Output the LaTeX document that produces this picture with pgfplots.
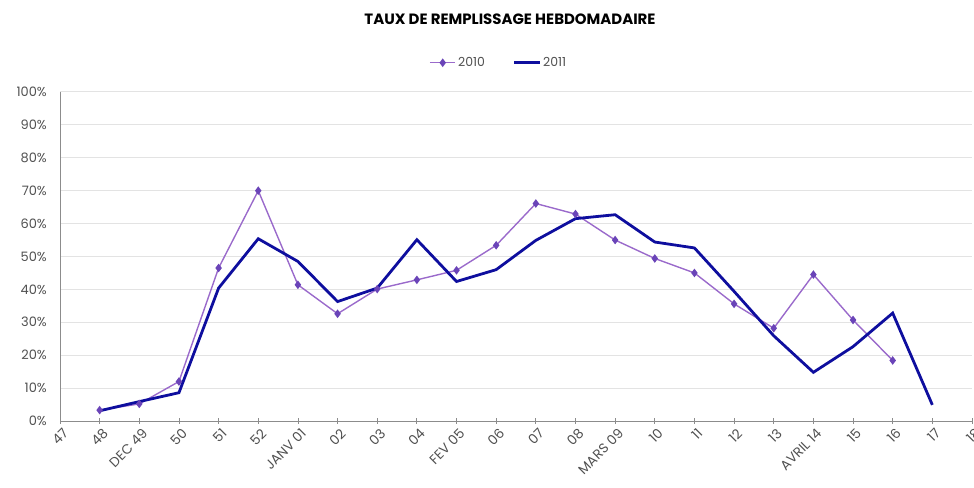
\documentclass[border=0pt]{standalone}
\usepackage{pgfplots}
\pgfplotsset{compat=1.18}
\usepackage{fontspec}
\setmainfont{Poppins}
\definecolor{c2010}{HTML}{9A6ACB}
\definecolor{m2010}{HTML}{6A44B8}
\definecolor{c2011}{HTML}{0E0E9E}
\definecolor{grd}{HTML}{E3E3E3}
\definecolor{axc}{HTML}{8C8C8C}
\definecolor{txt}{HTML}{505050}
\begin{document}
\begin{tikzpicture}
\begin{axis}[
  name=ax,
  scale only axis,
  width=912bp, height=329bp,
  xmin=0, xmax=23, ymin=0, ymax=100,
  axis x line*=bottom, axis y line*=left,
  axis line style={axc, line width=1pt},
  xtick={0,...,23},
  xticklabels={47,48,DEC 49,50,51,52,JANV 01,02,03,04,FEV 05,06,07,08,MARS 09,10,11,12,13,AVRIL 14,15,16,17,18},
  xticklabel style={rotate=45, anchor=north east, font=\fontsize{13.5}{15}\selectfont, text=txt, inner sep=1pt, yshift=-3bp},
  ytick={0,10,...,100},
  yticklabel={\pgfmathprintnumber{\tick}\%},
  yticklabel style={font=\fontsize{13}{15}\selectfont, text=txt, inner sep=0pt, xshift=-13bp},
  /pgf/number format/assume math mode=true,
  x tick style={axc, line width=0.8pt},
  major tick length=6pt,
  xtick align=center,
  y tick style={draw=none},
  ymajorgrids,
  grid style={grd, line width=1pt},
  legend style={draw=none, at={(0.481,1.06)}, anchor=south, legend columns=2,
    font=\fontsize{12.5}{14}\selectfont, text=txt, /tikz/every even column/.append style={column sep=26pt}},
  legend image code/.code={\draw[mark repeat=2,mark phase=2,#1] plot coordinates {(0cm,0cm) (0.45cm,0cm) (0.9cm,0cm)};},
  legend cell align=left,
  clip=false,
]
\addplot[c2010, line width=1.4pt, mark=diamond*, mark size=3.2pt, mark options={fill=m2010, draw=m2010}] coordinates {
(1,3.3) (2,5.2) (3,12.0) (4,46.5) (5,70.0) (6,41.4) (7,32.6) (8,40.1) (9,42.9) (10,45.8) (11,53.4) (12,66.1) (13,62.9) (14,55.0) (15,49.4) (16,45.0) (17,35.6) (18,28.2) (19,44.5) (20,30.7) (21,18.4)
};
\addlegendentry{2010}
\addplot[c2011, line width=2.8pt, mark=none] coordinates {
(1,3.1) (2,5.9) (3,8.6) (4,40.4) (5,55.4) (6,48.5) (7,36.3) (8,40.4) (9,55.1) (10,42.4) (11,46.0) (12,54.9) (13,61.5) (14,62.7) (15,54.4) (16,52.6) (17,39.4) (18,25.9) (19,14.8) (20,22.6) (21,32.8) (22,4.9)
};
\addlegendentry{2011}
\end{axis}
\node[font=\bfseries\fontsize{15}{17}\selectfont, anchor=center] at ([xshift=-6bp,yshift=73bp]ax.north) {TAUX DE REMPLISSAGE HEBDOMADAIRE};
\pgfresetboundingbox
\path[use as bounding box] ([xshift=-60bp,yshift=-67bp]ax.south west) rectangle ([xshift=2bp,yshift=92bp]ax.north east);
\end{tikzpicture}
\end{document}
